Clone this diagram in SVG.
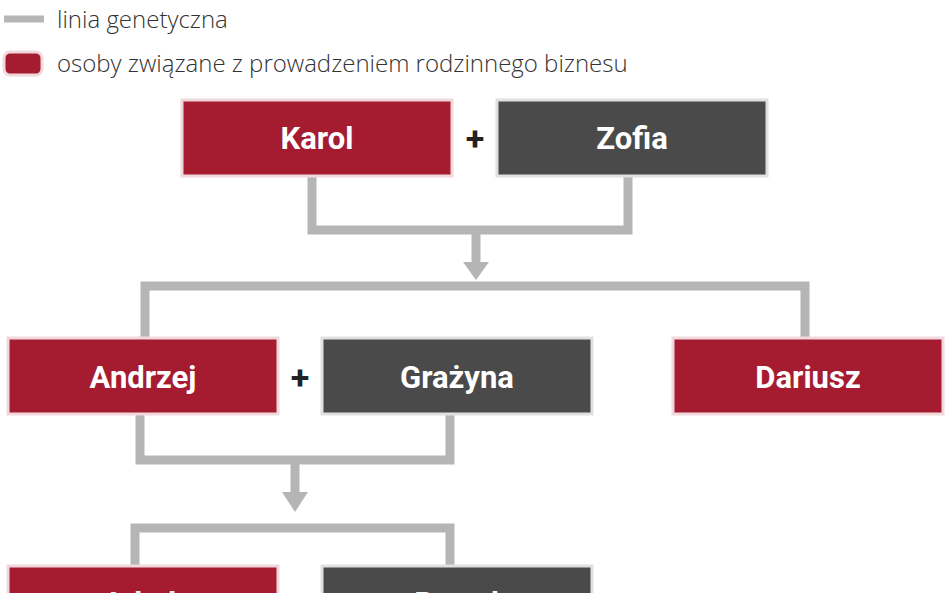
<svg xmlns="http://www.w3.org/2000/svg" width="948" height="593" viewBox="0 0 948 593">
<style>
.r{fill:#a51c30;stroke:#f0d8dc;stroke-width:3}
.g{fill:#4a4a4a;stroke:#e0e0e0;stroke-width:3}
.t{fill:#fff;font-family:Roboto,"Liberation Sans",sans-serif;font-weight:bold;font-size:31px;text-anchor:middle}
.p{fill:#222;font-family:Roboto,"Liberation Sans",sans-serif;font-weight:bold;font-size:34px;text-anchor:middle}
.l{fill:none;stroke:#b5b5b5;stroke-width:9}
.lg{fill:#333;font-family:"Open Sans","Liberation Sans",sans-serif;font-size:24px;font-weight:300}
</style>
<g id="legend">
<line x1="4" y1="19" x2="44" y2="19" stroke="#b5b5b5" stroke-width="7"/>
<text class="lg" x="57" y="28">linia genetyczna</text>
<rect x="4" y="52" width="38" height="23" rx="6" class="r"/>
<text class="lg" x="57" y="72">osoby związane z prowadzeniem rodzinnego biznesu</text>
</g>
<g id="connectors">
<path class="l" d="M312 175V230H628V175"/>
<path class="l" d="M476 230V265"/>
<polygon points="463,262 489,262 476,280" fill="#b5b5b5"/>
<path class="l" d="M145 338V286H805V338"/>
<path class="l" d="M140 413V460H450V413"/>
<path class="l" d="M295 460V495"/>
<polygon points="282,492 308,492 295,512" fill="#b5b5b5"/>
<path class="l" d="M135 566V528H450V566"/>
</g>
<g id="karol"><rect x="182" y="100" width="270" height="76" class="r"/><text class="t" x="317" y="149">Karol</text></g>
<text class="p" x="475" y="150">+</text>
<g id="zofia"><rect x="497" y="100" width="270" height="76" class="g"/><text class="t" x="632" y="149">Zofia</text></g>
<g id="andrzej"><rect x="8" y="338" width="270" height="76" class="r"/><text class="t" x="143" y="388">Andrzej</text></g>
<text class="p" x="300" y="389">+</text>
<g id="grazyna"><rect x="322" y="338" width="270" height="76" class="g"/><text class="t" x="457" y="388">Grażyna</text></g>
<g id="dariusz"><rect x="673" y="338" width="270" height="76" class="r"/><text class="t" x="808" y="388">Dariusz</text></g>
<g id="jakub"><rect x="8" y="566" width="270" height="76" class="r"/><text class="t" x="143" y="614">Jakub</text></g>
<g id="pawel"><rect x="322" y="566" width="270" height="76" class="g"/><text class="t" x="457" y="614">Paweł</text></g>
</svg>
